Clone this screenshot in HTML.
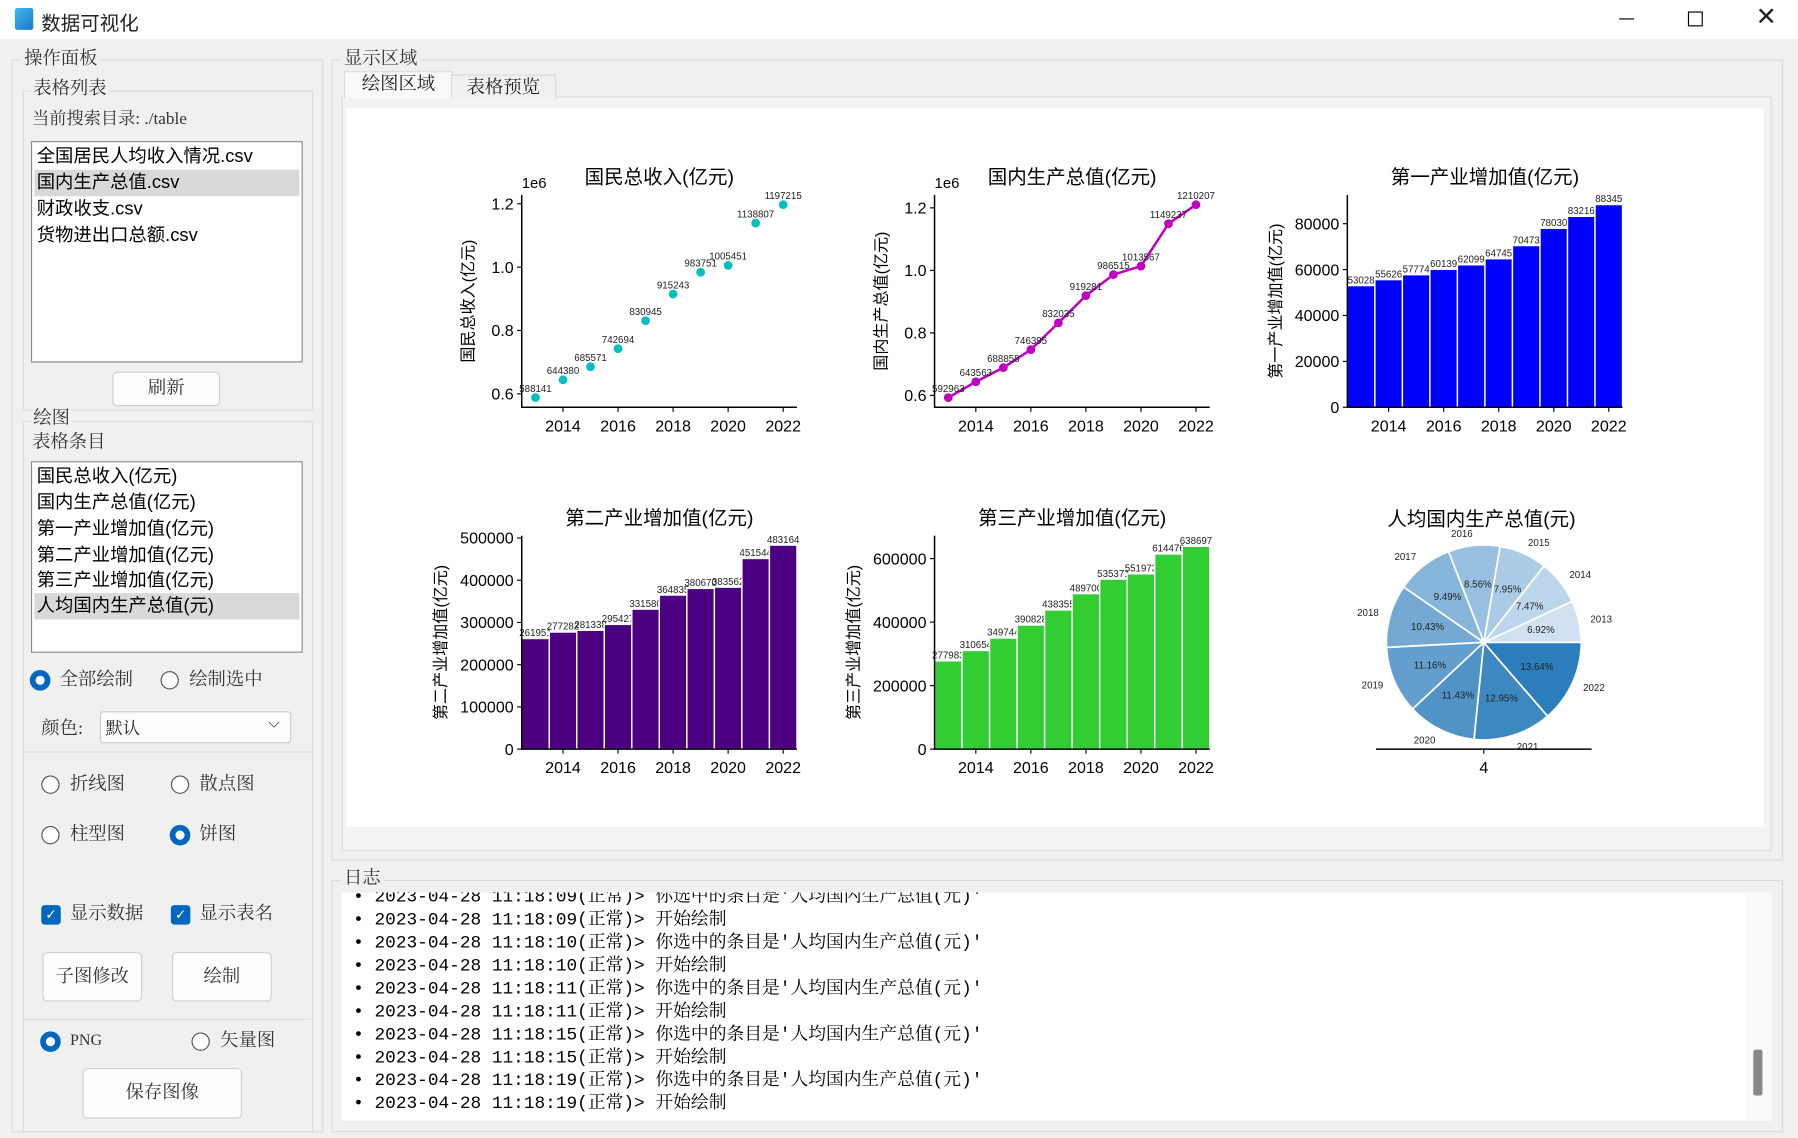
<!DOCTYPE html>
<html><head><meta charset="utf-8">
<style>
html,body{margin:0;padding:0;width:1798px;height:1138px;overflow:hidden;background:#f0f0f0;}
#app{position:absolute;left:0;top:0;width:1568px;height:992px;transform:scale(1.14668,1.14718);transform-origin:0 0;background:#f0f0f0;font-family:"Liberation Serif","Noto Serif CJK SC",serif;color:#222;}
.abs{position:absolute;}
.grp{position:absolute;border:1px solid #dcdcdc;}
.lbl{position:absolute;background:#f0f0f0;padding:0 2px;font-size:16px;color:#333;line-height:18px;}
.list{position:absolute;background:#fff;border:1px solid #8a8a8a;font-family:"Liberation Sans","Noto Sans CJK SC",sans-serif;font-size:16px;}
.item{position:absolute;left:2px;right:2px;height:23px;line-height:23px;padding-left:2px;color:#000;}
.sel{background:#d9d9d9;}
.btn{position:absolute;background:#fdfdfd;border:1px solid #d0d0d0;border-radius:4px;text-align:center;font-size:16px;color:#333;}
.radio{position:absolute;width:14px;height:14px;border:1.5px solid #555;border-radius:50%;background:#fff;}
.radio.on{border:none;width:18px;height:18px;background:#0067c0;}
.radio.on::after{content:"";position:absolute;left:5px;top:5px;width:8px;height:8px;border-radius:50%;background:#fff;}
.chk{position:absolute;width:17px;height:17px;border-radius:3px;background:#0067c0;color:#fff;font-size:12px;text-align:center;line-height:17px;font-family:"DejaVu Sans",sans-serif;}
.txt{position:absolute;font-size:16px;color:#333;line-height:20px;white-space:nowrap;}
.log{position:absolute;left:10px;font-size:15.5px;line-height:20px;white-space:nowrap;color:#000;font-family:"Liberation Mono","Noto Serif CJK SC",monospace;}
</style></head><body>
<div id="app">
 <div class="abs" style="left:0;top:0;width:1568px;height:34px;background:#fff;">
  <div class="abs" style="left:13px;top:7px;width:16px;height:19px;background:linear-gradient(135deg,#3fb8f0,#1a78c8);border-radius:2px;"></div>
  <div class="abs" style="left:36px;top:6px;font-size:17px;font-family:'Liberation Sans','Noto Sans CJK SC',sans-serif;">数据可视化</div>
  <div class="abs" style="left:1412px;top:16px;width:13px;height:1px;background:#000;"></div>
  <div class="abs" style="left:1472px;top:10px;width:11px;height:11px;border:1px solid #000;"></div>
  <div class="abs" style="left:1531px;top:3px;font-size:22px;font-family:'DejaVu Sans',sans-serif;">✕</div>
 </div>

 <div class="grp" style="left:10px;top:52px;width:270px;height:933px;"></div>
 <div class="lbl" style="left:19px;top:43px;">操作面板</div>
 <div class="grp" style="left:20px;top:79px;width:251px;height:277px;"></div>
 <div class="lbl" style="left:27px;top:69px;">表格列表</div>
 <div class="txt" style="left:28px;top:94px;font-size:15px;">当前搜索目录: ./table</div>
 <div class="list" style="left:27px;top:123px;width:235px;height:191px;">
  <div class="item" style="top:1px;">全国居民人均收入情况.csv</div>
  <div class="item sel" style="top:24px;">国内生产总值.csv</div>
  <div class="item" style="top:47px;">财政收支.csv</div>
  <div class="item" style="top:70px;">货物进出口总额.csv</div>
 </div>
 <div class="btn" style="left:98px;top:324px;width:92px;height:28px;line-height:28px;">刷新</div>

 <div class="grp" style="left:20px;top:367px;width:251px;height:618px;"></div>
 <div class="lbl" style="left:27px;top:356px;">绘图</div>
 <div class="txt" style="left:28px;top:376px;">表格条目</div>
 <div class="list" style="left:27px;top:402px;width:235px;height:165px;">
  <div class="item" style="top:1px;">国民总收入(亿元)</div>
  <div class="item" style="top:24px;">国内生产总值(亿元)</div>
  <div class="item" style="top:47px;">第一产业增加值(亿元)</div>
  <div class="item" style="top:70px;">第二产业增加值(亿元)</div>
  <div class="item" style="top:92px;">第三产业增加值(亿元)</div>
  <div class="item sel" style="top:114px;">人均国内生产总值(元)</div>
 </div>
 <div class="radio on" style="left:26px;top:584px;"></div>
 <div class="txt" style="left:52px;top:583px;">全部绘制</div>
 <div class="radio" style="left:140px;top:585px;"></div>
 <div class="txt" style="left:165px;top:583px;">绘制选中</div>
 <div class="txt" style="left:36px;top:626px;">颜色:</div>
 <div class="abs" style="left:87px;top:620px;width:165px;height:26px;background:#fdfdfd;border:1px solid #ccc;border-radius:3px;">
  <span class="abs" style="left:4px;top:3px;font-size:15px;">默认</span><span class="abs" style="left:146px;top:2px;font-size:13px;font-family:'DejaVu Sans';">⌵</span></div>
 <div class="abs" style="left:21px;top:655px;width:250px;height:1px;background:#dcdcdc;"></div>
 <div class="radio" style="left:36px;top:676px;"></div>
 <div class="txt" style="left:61px;top:674px;">折线图</div>
 <div class="radio" style="left:149px;top:676px;"></div>
 <div class="txt" style="left:174px;top:674px;">散点图</div>
 <div class="radio" style="left:36px;top:720px;"></div>
 <div class="txt" style="left:61px;top:718px;">柱型图</div>
 <div class="radio on" style="left:148px;top:719px;"></div>
 <div class="txt" style="left:174px;top:718px;">饼图</div>
 <div class="chk" style="left:36px;top:789px;">✓</div>
 <div class="txt" style="left:61px;top:787px;">显示数据</div>
 <div class="chk" style="left:149px;top:789px;">✓</div>
 <div class="txt" style="left:174px;top:787px;">显示表名</div>
 <div class="btn" style="left:37px;top:830px;width:85px;height:41px;line-height:41px;">子图修改</div>
 <div class="btn" style="left:150px;top:830px;width:85px;height:41px;line-height:41px;">绘制</div>
 <div class="abs" style="left:21px;top:888px;width:250px;height:1px;background:#dcdcdc;"></div>
 <div class="radio on" style="left:35px;top:899px;"></div>
 <div class="txt" style="left:61px;top:898px;font-size:14px;">PNG</div>
 <div class="radio" style="left:167px;top:900px;"></div>
 <div class="txt" style="left:192px;top:898px;">矢量图</div>
 <div class="btn" style="left:72px;top:931px;width:137px;height:42px;line-height:42px;">保存图像</div>

 <div class="grp" style="left:289px;top:52px;width:1264px;height:696px;"></div>
 <div class="lbl" style="left:298px;top:43px;">显示区域</div>
 <div class="abs" style="left:298px;top:84px;width:1245px;height:656px;border:1px solid #dcdcdc;background:#f3f3f3;"></div>
 <div class="abs" style="left:300px;top:62px;width:93px;height:23px;background:#f9f9f9;border:1px solid #dcdcdc;border-bottom:none;font-size:16px;text-align:center;line-height:22px;">绘图区域</div>
 <div class="abs" style="left:393px;top:65px;width:90px;height:20px;background:#f0f0f0;border:1px solid #dcdcdc;border-bottom:none;font-size:16px;text-align:center;line-height:21px;">表格预览</div>
 <div class="abs" style="left:302px;top:94px;width:1236px;height:627px;background:#fff;"></div>

 <div class="grp" style="left:289px;top:767px;width:1264px;height:218px;"></div>
 <div class="lbl" style="left:298px;top:757px;">日志</div>
 <div class="abs" style="left:298px;top:778px;width:1247px;height:199px;background:#fff;overflow:hidden;">
  <div class="log" style="top:-6px;">• 2023-04-28 11:18:09(正常)&gt; 你选中的条目是'人均国内生产总值(元)'</div>
  <div class="log" style="top:14px;">• 2023-04-28 11:18:09(正常)&gt; 开始绘制</div>
  <div class="log" style="top:34px;">• 2023-04-28 11:18:10(正常)&gt; 你选中的条目是'人均国内生产总值(元)'</div>
  <div class="log" style="top:54px;">• 2023-04-28 11:18:10(正常)&gt; 开始绘制</div>
  <div class="log" style="top:74px;">• 2023-04-28 11:18:11(正常)&gt; 你选中的条目是'人均国内生产总值(元)'</div>
  <div class="log" style="top:94px;">• 2023-04-28 11:18:11(正常)&gt; 开始绘制</div>
  <div class="log" style="top:114px;">• 2023-04-28 11:18:15(正常)&gt; 你选中的条目是'人均国内生产总值(元)'</div>
  <div class="log" style="top:134px;">• 2023-04-28 11:18:15(正常)&gt; 开始绘制</div>
  <div class="log" style="top:154px;">• 2023-04-28 11:18:19(正常)&gt; 你选中的条目是'人均国内生产总值(元)'</div>
  <div class="log" style="top:174px;">• 2023-04-28 11:18:19(正常)&gt; 开始绘制</div>
  <div class="abs" style="left:1224px;top:0;width:23px;height:199px;background:#fafafa;"></div>
  <div class="abs" style="left:1231px;top:137px;width:8px;height:40px;background:#888;border-radius:2px;"></div>
 </div>

 <svg id="charts" class="abs" style="left:0;top:0;" width="1568" height="992" font-family="'Liberation Sans','Noto Sans CJK SC',sans-serif"></svg>
</div>
<script>
const years = [2013,2014,2015,2016,2017,2018,2019,2020,2021,2022];
const xTicks = [2014,2016,2018,2020,2022];
const gni = [588141,644380,685571,742694,830945,915243,983751,1005451,1138807,1197215];
const gdp = [592963,643563,688858,746395,832035,919281,986515,1013567,1149237,1210207];
const primary = [53028,55626,57774,60139,62099,64745,70473,78030,83216,88345];
const secondary = [261951,277282,281338,295427,331580,364835,380670,383562,451544,483164];
const tertiary = [277983,310654,349744,390828,438355,489700,535371,551973,614476,638697];
const perCapita = [43497,46912,49922,53783,59592,65534,70078,71828,81370,85698];
const gniTicks = [0.6,0.8,1.0,1.2];
const gdpTicks = [0.6,0.8,1.0,1.2];
const primaryTicks = [0,20000,40000,60000,80000];
const secondaryTicks = [0,100000,200000,300000,400000,500000];
const tertiaryTicks = [0,200000,400000,600000];

const svg = document.getElementById('charts');
const NS = 'http://www.w3.org/2000/svg';
function mk(tag, attrs, parent, text){
  const e = document.createElementNS(NS, tag);
  for (const k in attrs) e.setAttribute(k, attrs[k]);
  if (text !== undefined) e.textContent = text;
  (parent || svg).appendChild(e);
  return e;
}

function chart(cfg){
  const g = mk('g', {});
  
  
  const L=cfg.L, R=cfg.R, T=cfg.T, B=cfg.B;
  const xs = v => L + (v - 2012.5) / 10 * (R - L);
  let ymin = cfg.ymin, ymax = cfg.ymax;
  if (cfg.auto){
    const mn = Math.min(...cfg.data), mx = Math.max(...cfg.data), m = (mx-mn)*0.05;
    ymin = mn - m; ymax = mx + m;
  }
  const ys = v => B - (v - ymin) / (ymax - ymin) * (B - T);
  const t = mk('text', {x:(L+R)/2, y:T-10, 'text-anchor':'middle', 'font-size':17, fill:'#000'}, g, cfg.title);
  
  
  if (cfg.scaleLabel){
    const s = mk('text', {x:L, y:T-6, 'font-size':13, fill:'#000'}, g, cfg.scaleLabel);
    
    
  }
  const yl = mk('text', {x:cfg.ylx, y:(T+B)/2, 'text-anchor':'middle', 'font-size':14, fill:'#000', transform:`rotate(-90 ${cfg.ylx} ${(T+B)/2})`}, g, cfg.title);
  
  
  if (cfg.type === 'bar'){
    cfg.data.forEach((v,i)=>{
      const x0 = xs(years[i]-0.5), x1 = xs(years[i]+0.5);
      const r = mk('rect', {x:x0, y:ys(v), width:x1-x0, height:ys(0)-ys(v), fill:cfg.color, stroke:'#fff', 'stroke-width':1.2}, g);
      
      
      const tl = mk('text', {x:(x0+x1)/2, y:ys(v)-2, 'text-anchor':'middle', 'font-size':8.5, fill:'#222'}, g, String(v));
      
      
    });
  } else {
    if (cfg.type === 'line'){
      const pts = cfg.data.map((v,i)=>xs(years[i])+','+ys(v)).join(' ');
      const pl = mk('polyline', {points:pts, fill:'none', stroke:cfg.color, 'stroke-width':2.2}, g);
      
      
    }
    cfg.data.forEach((v,i)=>{
      const c = mk('circle', {cx:xs(years[i]), cy:ys(v), r:3.8, fill:cfg.color}, g);
      
      
      const tl = mk('text', {x:xs(years[i]), y:ys(v)-5, 'text-anchor':'middle', 'font-size':8.5, fill:'#222'}, g, String(v));
      
      
    });
  }
  const ax = mk('path', {d:`M${L},${T} V${B} H${R}`, fill:'none', stroke:'#000', 'stroke-width':1.3}, g);
  
  
  cfg.ticks.forEach(v=>{
    const val = v * (cfg.tickMul || 1);
    const y = ys(val);
    mk('line', {x1:L-4, x2:L, y1:y, y2:y, stroke:'#000', 'stroke-width':1}, g);
    const tl = mk('text', {x:L-7, y:y+5, 'text-anchor':'end', 'font-size':14, fill:'#000'}, g, cfg.tickMul ? v.toFixed(1) : String(v));
    
    
  });
  xTicks.forEach(v=>{
    const x = xs(v);
    mk('line', {x1:x, x2:x, y1:B, y2:B+4, stroke:'#000', 'stroke-width':1}, g);
    const tl = mk('text', {x:x, y:B+21, 'text-anchor':'middle', 'font-size':14, fill:'#000'}, g, String(v));
    
    
  });
}

chart({name:'gni-scatter-chart', title:'国民总收入(亿元)', type:'scatter', color:'#00bfbf', data:gni, auto:true, L:455,R:695,T:170,B:355, ticks:gniTicks, tickMul:1e6, scaleLabel:'1e6', ylx:413});
chart({name:'gdp-line-chart', title:'国内生产总值(亿元)', type:'line', color:'#bf00bf', data:gdp, auto:true, L:815,R:1055,T:170,B:355, ticks:gdpTicks, tickMul:1e6, scaleLabel:'1e6', ylx:773});
chart({name:'primary-bar-chart', title:'第一产业增加值(亿元)', type:'bar', color:'#0000ff', data:primary, ymin:0, ymax:92500, L:1175,R:1415,T:170,B:355, ticks:primaryTicks, ylx:1117});
chart({name:'secondary-bar-chart', title:'第二产业增加值(亿元)', type:'bar', color:'#4b0082', data:secondary, ymin:0, ymax:505400, L:455,R:695,T:467,B:653, ticks:secondaryTicks, ylx:389});
chart({name:'tertiary-bar-chart', title:'第三产业增加值(亿元)', type:'bar', color:'#32cd32', data:tertiary, ymin:0, ymax:672000, L:815,R:1055,T:467,B:653, ticks:tertiaryTicks, ylx:749});

(function(){
  const g = mk('g', {});
  
  
  const cx = 1294, cy = 560, r = 85;
  const total = perCapita.reduce((a,b)=>a+b,0);
  const c0 = [208,225,242], c1 = [44,125,187];
  const t = mk('text', {x:1292, y:458, 'text-anchor':'middle', 'font-size':17, fill:'#000'}, g, '人均国内生产总值(元)');
  
  
  let a = 0;
  perCapita.forEach((v,i)=>{
    const da = v/total*2*Math.PI;
    const a1 = a + da;
    const x0 = cx + r*Math.cos(a), y0 = cy - r*Math.sin(a);
    const x1 = cx + r*Math.cos(a1), y1 = cy - r*Math.sin(a1);
    const f = i/(perCapita.length-1);
    const col = `rgb(${c0.map((c,k)=>Math.round(c+(c1[k]-c)*f)).join(',')})`;
    const p = mk('path', {d:`M${cx},${cy} L${x0},${y0} A${r},${r} 0 ${da>Math.PI?1:0} 0 ${x1},${y1} Z`, fill:col, stroke:'#fff', 'stroke-width':1.5}, g);
    
    
    const m = (a+a1)/2;
    const pl = mk('text', {x:cx+0.6*r*Math.cos(m), y:cy-0.6*r*Math.sin(m)+3, 'text-anchor':'middle', 'font-size':8.5, fill:'#222'}, g, (v/total*100).toFixed(2)+'%');
    
    
    const yl = mk('text', {x:cx+1.12*r*Math.cos(m), y:cy-1.12*r*Math.sin(m)+3, 'text-anchor':Math.cos(m)>0.1?'start':(Math.cos(m)<-0.1?'end':'middle'), 'font-size':8.5, fill:'#222'}, g, String(years[i]));
    
    
    a = a1;
  });
  const ax = mk('line', {x1:1200, x2:1388, y1:653, y2:653, stroke:'#000', 'stroke-width':1.3}, g);
  
  
  mk('line', {x1:1294, x2:1294, y1:653, y2:657, stroke:'#000'}, g);
  const tl = mk('text', {x:1294, y:674, 'text-anchor':'middle', 'font-size':14, fill:'#000'}, g, '4');
  
  
})();
</script>
</body></html>
